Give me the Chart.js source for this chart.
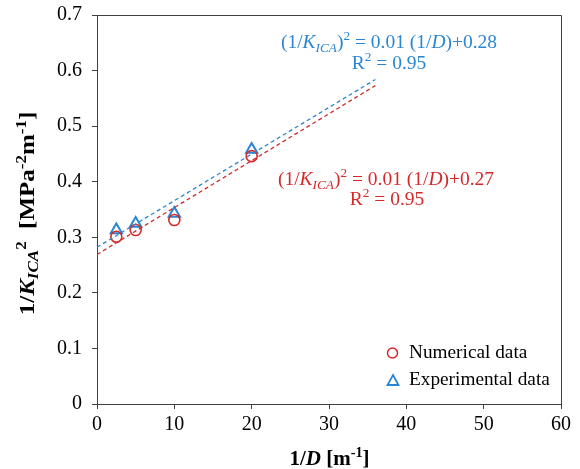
<!DOCTYPE html>
<html>
<head>
<meta charset="utf-8">
<script src="https://cdn.jsdelivr.net/npm/chart.js@4.4.1/dist/chart.umd.min.js"></script>
<style>
  html, body { margin: 0; padding: 0; background: #fff; }
  #wrap { width: 580px; height: 469px; }
</style>
</head>
<body>
<div id="wrap"><canvas id="chart"></canvas></div>
<script>
// data
const inverseD = [2.5, 5, 10, 20];
const numericalData = [0.301, 0.313, 0.331, 0.446];
const experimentalData = [0.313, 0.325, 0.343, 0.458];

// trend line end points (x from 0 to 36)
const trendX = [0, 36];
const numericalTrend = [0.269, 0.573];
const experimentalTrend = [0.282, 0.584];

const xTicks = [0, 10, 20, 30, 40, 50, 60];
const yTicks = [0, 0.1, 0.2, 0.3, 0.4, 0.5, 0.6, 0.7];

const RED = '#d42a2a';
const BLUE = '#2a86d2';
const AXIS = '#404040';
const FONT = '"Liberation Serif", "Times New Roman", serif';

const toPts = (xs, ys) => xs.map((x, i) => ({ x: x, y: ys[i] }));

// draws a run of text pieces with own style, sub/superscripts
function richWidth(ctx, parts, size) {
    let w = 0;
    parts.forEach(p => {
        const s = p.small ? size * 0.68 : size;
        ctx.font = (p.style || '') + ' ' + s + 'px ' + FONT;
        w += ctx.measureText(p.t).width;
    });
    return w;
}
function drawRich(ctx, parts, x, y, size, color, align) {
    let w = richWidth(ctx, parts, size);
    let cx = align === 'center' ? x - w / 2 : x;
    ctx.fillStyle = color;
    ctx.textBaseline = 'alphabetic';
    ctx.textAlign = 'left';
    parts.forEach(p => {
        const s = p.small ? size * 0.68 : size;
        ctx.font = (p.style || '') + ' ' + s + 'px ' + FONT;
        let dy = 0;
        if (p.sup) dy = -size * 0.4;
        if (p.sub) dy = size * 0.2;
        ctx.fillText(p.t, cx, y + dy);
        cx += ctx.measureText(p.t).width;
    });
}

function eqParts(c) {
    return [
        { t: '(1/' }, { t: 'K', style: 'italic' }, { t: 'ICA', style: 'italic', small: true, sub: true },
        { t: ')' }, { t: '2', small: true, sup: true },
        { t: ' = 0.01 (1/' }, { t: 'D', style: 'italic' }, { t: ')+' + c }
    ];
}
const r2Parts = [{ t: 'R' }, { t: '2', small: true, sup: true }, { t: ' = 0.95' }];

const extrasPlugin = {
    id: 'extras',
    beforeDatasetsDraw(chart) {
        const ctx = chart.ctx, a = chart.chartArea;
        ctx.save();
        ctx.strokeStyle = AXIS;
        ctx.lineWidth = 1;
        ctx.beginPath();
        ctx.moveTo(a.left, a.top + 0.5);
        ctx.lineTo(a.right + 0.5, a.top + 0.5);
        ctx.lineTo(a.right + 0.5, a.bottom);
        ctx.stroke();
        ctx.restore();
    },
    afterDraw(chart) {
        const ctx = chart.ctx;
        ctx.save();
        // equations
        drawRich(ctx, eqParts('0.28'), 389, 48, 19.5, BLUE, 'center');
        drawRich(ctx, r2Parts, 389, 69, 19.5, BLUE, 'center');
        drawRich(ctx, eqParts('0.27'), 386, 185, 19.5, RED, 'center');
        drawRich(ctx, r2Parts, 387, 205, 19.5, RED, 'center');

        // x axis title
        drawRich(ctx, [{ t: '1/', style: 'bold' }, { t: 'D', style: 'bold italic' }, { t: ' [m', style: 'bold' },
            { t: '-1', style: 'bold', small: true, sup: true }, { t: ']', style: 'bold' }], 329.5, 465, 21, '#000', 'center');

        // y axis title
        ctx.save();
        ctx.translate(34, 213.5);
        ctx.rotate(-Math.PI / 2);
        ctx.scale(1.25, 1);
        drawRich(ctx, [{ t: '1/', style: 'bold' }, { t: 'K', style: 'bold italic' },
            { t: 'ICA', style: 'bold italic', small: true, sub: true }, { t: '2', style: 'bold', small: true, sup: true },
            { t: '  [MPa', style: 'bold' }, { t: '-2', style: 'bold', small: true, sup: true },
            { t: 'm', style: 'bold' }, { t: '-1', style: 'bold', small: true, sup: true }, { t: ']', style: 'bold' }],
            0, 0, 20, '#000', 'center');
        ctx.restore();

        // legend
        ctx.lineWidth = 1.5;
        ctx.strokeStyle = RED;
        ctx.beginPath();
        ctx.arc(392.5, 353, 5, 0, Math.PI * 2);
        ctx.stroke();
        ctx.strokeStyle = BLUE;
        ctx.lineWidth = 1.8;
        ctx.beginPath();
        ctx.moveTo(393, 375);
        ctx.lineTo(398.5, 385);
        ctx.lineTo(387.5, 385);
        ctx.closePath();
        ctx.stroke();
        ctx.fillStyle = '#000';
        ctx.font = '19.3px ' + FONT;
        ctx.textBaseline = 'alphabetic';
        ctx.fillText('Numerical data', 409, 358);
        ctx.fillText('Experimental data', 409, 385);
        ctx.restore();
    }
};

new Chart(document.getElementById('chart'), {
    type: 'scatter',
    data: {
        datasets: [
            { label: 'Numerical trend', type: 'line', data: toPts(trendX, numericalTrend), borderColor: RED,
              borderWidth: 1.3, borderDash: [4, 3], pointRadius: 0, fill: false },
            { label: 'Experimental trend', type: 'line', data: toPts(trendX, experimentalTrend), borderColor: BLUE,
              borderWidth: 1.3, borderDash: [4, 3], pointRadius: 0, fill: false },
            { label: 'Numerical data', data: toPts(inverseD, numericalData), pointStyle: 'circle',
              pointRadius: 5.5, borderColor: RED, backgroundColor: 'rgba(0,0,0,0)', borderWidth: 1.6 },
            { label: 'Experimental data', data: toPts(inverseD, experimentalData), pointStyle: 'triangle',
              pointRadius: 6.5, borderColor: BLUE, backgroundColor: 'rgba(0,0,0,0)', borderWidth: 2 }
        ]
    },
    options: {
        responsive: true,
        maintainAspectRatio: false,
        animation: false,
        layout: { padding: { top: 15, right: 19, bottom: 0, left: 0 } },
        plugins: { legend: { display: false }, tooltip: { enabled: false } },
        scales: {
            x: {
                type: 'linear', min: 0, max: 60,
                afterBuildTicks: s => { s.ticks = xTicks.map(v => ({ value: v })); },
                afterFit: s => { s.height = 65; s.paddingLeft = 0; s.paddingRight = 0; },
                ticks: { color: '#000', font: { family: FONT, size: 20 }, padding: 4, maxRotation: 0 },
                grid: { drawOnChartArea: false, drawTicks: true, tickLength: 5, color: AXIS },
                border: { color: AXIS, width: 1 }
            },
            y: {
                type: 'linear', min: 0, max: 0.7,
                afterBuildTicks: s => { s.ticks = yTicks.map(v => ({ value: v })); },
                afterFit: s => { s.width = 97; s.paddingTop = 0; s.paddingBottom = 0; },
                ticks: { color: '#000', font: { family: FONT, size: 20 }, padding: 10,
                         callback: v => String(Math.round(v * 10) / 10) },
                grid: { drawOnChartArea: false, drawTicks: true, tickLength: 5, color: AXIS },
                border: { color: AXIS, width: 1 }
            }
        }
    },
    plugins: [extrasPlugin]
});
</script>
</body>
</html>
